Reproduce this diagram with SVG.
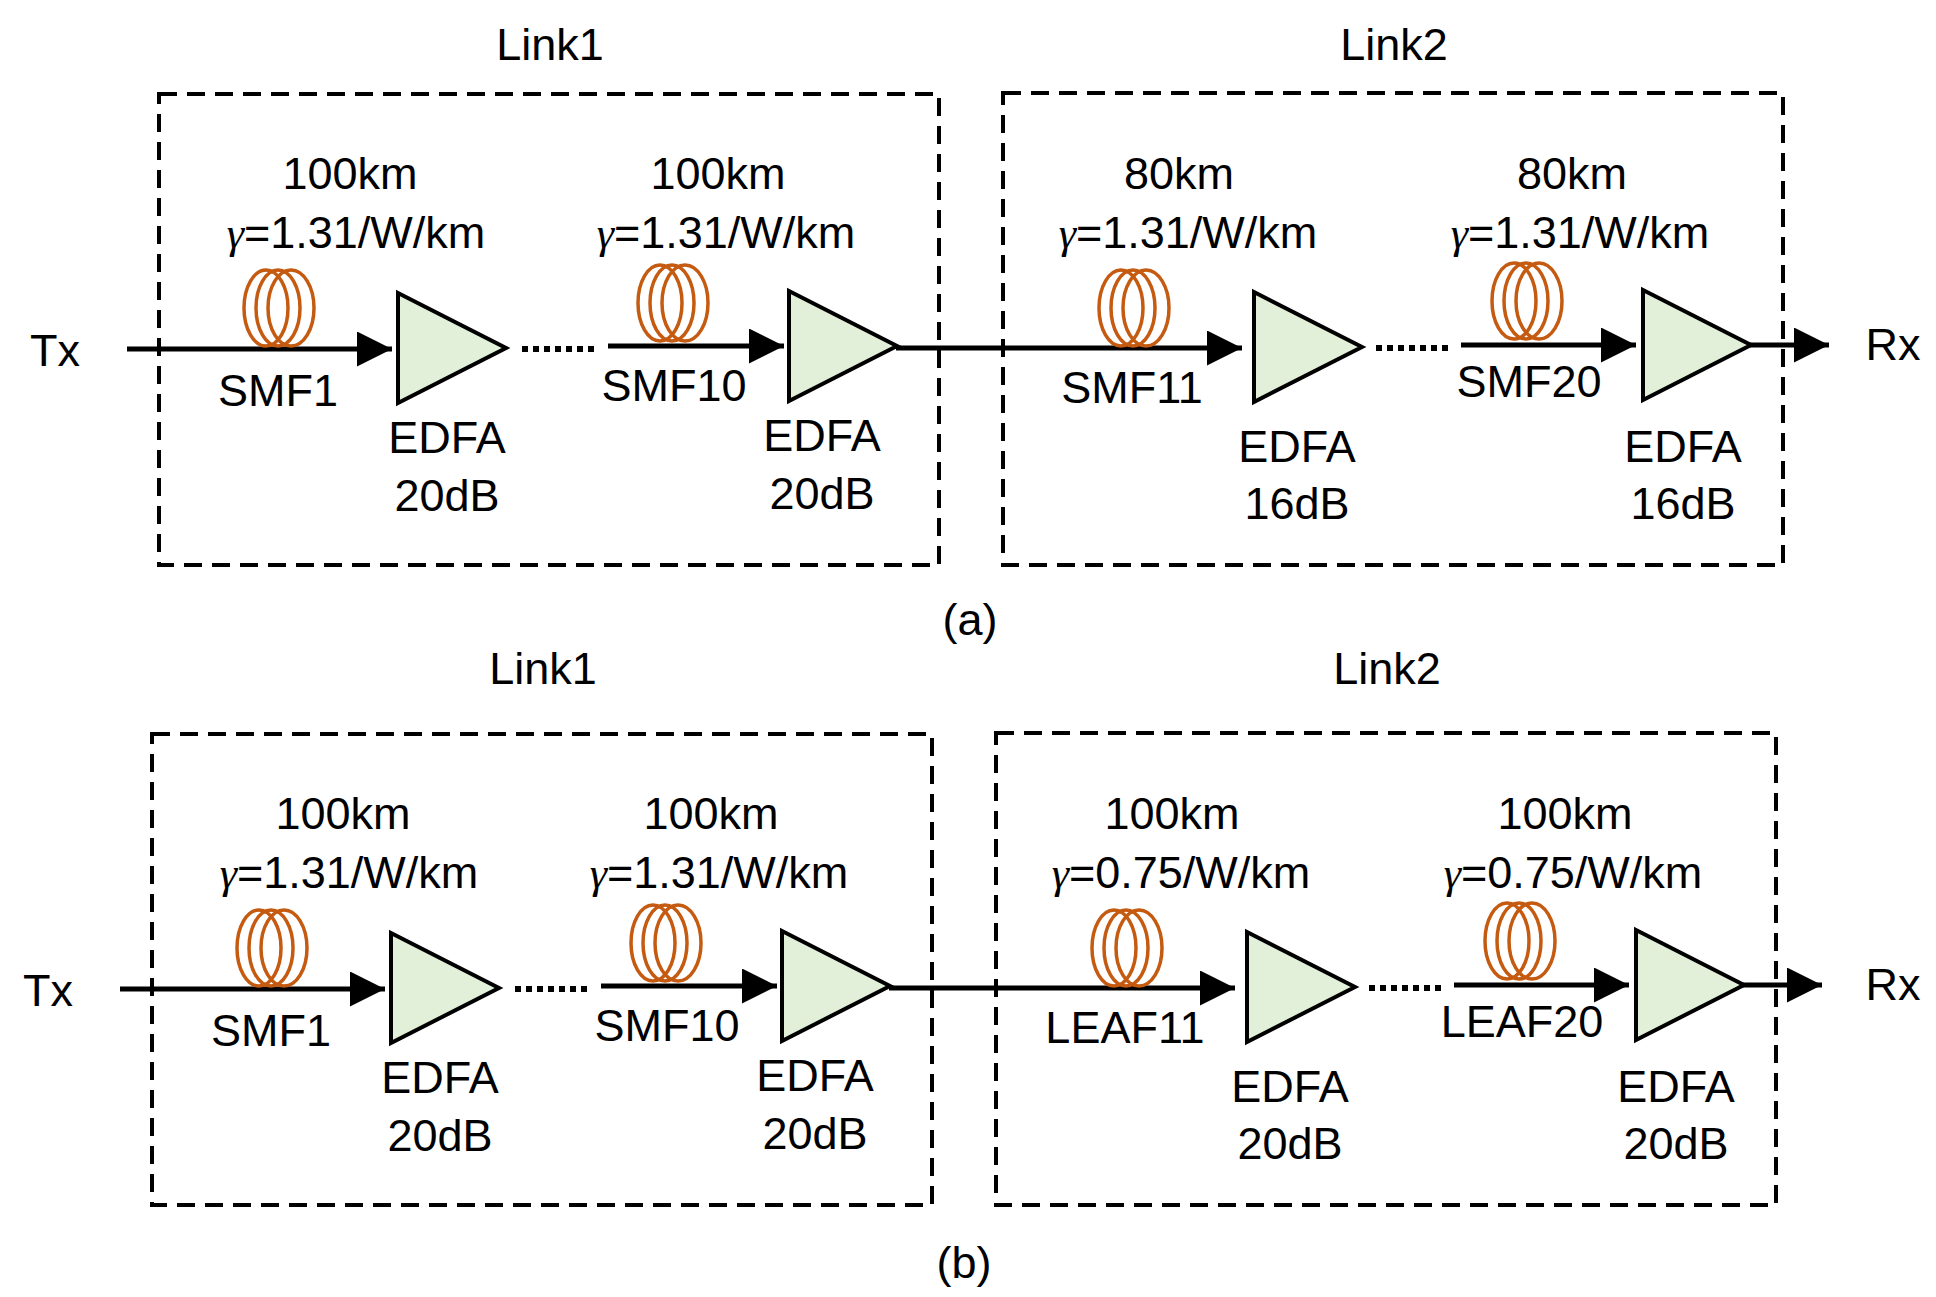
<svg xmlns="http://www.w3.org/2000/svg" xmlns:xlink="http://www.w3.org/1999/xlink" width="1936" height="1297" viewBox="0 0 1936 1297">
<style>
text{font-family:"Liberation Sans",Arial,sans-serif;font-size:45px;fill:#000;text-anchor:middle}
.g{font-family:"Liberation Serif",serif;font-style:italic;font-size:44px}
.box{fill:none;stroke:#000;stroke-width:4;stroke-dasharray:18 10}
.ln{stroke:#000;stroke-width:5;fill:none}
.dot{stroke:#000;stroke-width:6;stroke-dasharray:6 5;fill:none}
.amp{fill:#e2efd9;stroke:#000;stroke-width:4;stroke-linejoin:miter}
.coil{fill:none;stroke:#c55a11;stroke-width:3.5}
</style>
<defs>
<marker id="ah" markerWidth="8" markerHeight="8" refX="7" refY="3.5" orient="auto" markerUnits="strokeWidth"><path d="M0,0 L7,3.5 L0,7 z" fill="#000"/></marker>
<g id="coil"><ellipse class="coil" cx="-12" cy="0" rx="22" ry="38"/><ellipse class="coil" cx="0" cy="0" rx="22" ry="38"/><ellipse class="coil" cx="13" cy="0" rx="23" ry="38"/></g>
<polygon id="amp" class="amp" points="0,-55 108,0 0,55"/>
</defs>

<g id="panel-a">
<g id="link1a"><rect class="box" x="159" y="94" width="780" height="471"/><text x="550" y="60">Link1</text></g>
<g id="link2a"><rect class="box" x="1003" y="93" width="780" height="472"/><text x="1394" y="60">Link2</text></g>
<g id="connectors-a">
<line class="ln" x1="127" y1="349" x2="392" y2="349" marker-end="url(#ah)"/>
<line class="dot" x1="522" y1="349" x2="597" y2="349"/>
<line class="ln" x1="608" y1="346" x2="784" y2="346" marker-end="url(#ah)"/>
<line class="ln" x1="896" y1="348" x2="1242" y2="348" marker-end="url(#ah)"/>
<line class="dot" x1="1376" y1="348" x2="1451" y2="348"/>
<line class="ln" x1="1461" y1="345" x2="1636" y2="345" marker-end="url(#ah)"/>
<line class="ln" x1="1750" y1="345" x2="1829" y2="345" marker-end="url(#ah)"/>
</g>
<text x="55" y="366">Tx</text><text x="1893" y="360">Rx</text>
<g id="smf1a"><use xlink:href="#coil" x="278" y="308"/><text x="350" y="189">100km</text><text x="356" y="248"><tspan class="g">γ</tspan>=1.31/W/km</text><text x="278" y="406">SMF1</text></g>
<g id="edfa1a"><use xlink:href="#amp" x="398" y="348"/><text x="447" y="453">EDFA</text><text x="447" y="511">20dB</text></g>
<g id="smf10a"><use xlink:href="#coil" x="672" y="303"/><text x="718" y="189">100km</text><text x="726" y="248"><tspan class="g">γ</tspan>=1.31/W/km</text><text x="674" y="401">SMF10</text></g>
<g id="edfa2a"><use xlink:href="#amp" x="789" y="346"/><text x="822" y="451">EDFA</text><text x="822" y="509">20dB</text></g>
<g id="smf11a"><use xlink:href="#coil" x="1133" y="308"/><text x="1179" y="189">80km</text><text x="1188" y="248"><tspan class="g">γ</tspan>=1.31/W/km</text><text x="1132" y="403">SMF11</text></g>
<g id="edfa3a"><use xlink:href="#amp" x="1254" y="347"/><text x="1297" y="462">EDFA</text><text x="1297" y="519">16dB</text></g>
<g id="smf20a"><use xlink:href="#coil" x="1526" y="301"/><text x="1572" y="189">80km</text><text x="1580" y="248"><tspan class="g">γ</tspan>=1.31/W/km</text><text x="1529" y="397">SMF20</text></g>
<g id="edfa4a"><use xlink:href="#amp" x="1643" y="345"/><text x="1683" y="462">EDFA</text><text x="1683" y="519">16dB</text></g>
<text x="970" y="635">(a)</text>
</g>

<g id="panel-b">
<g transform="translate(-7,640)">
<g id="link1b"><rect class="box" x="159" y="94" width="780" height="471"/><text x="550" y="44">Link1</text></g>
<g id="link2b"><rect class="box" x="1003" y="93" width="780" height="472"/><text x="1394" y="44">Link2</text></g>
<g id="connectors-b">
<line class="ln" x1="127" y1="349" x2="392" y2="349" marker-end="url(#ah)"/>
<line class="dot" x1="522" y1="349" x2="597" y2="349"/>
<line class="ln" x1="608" y1="346" x2="784" y2="346" marker-end="url(#ah)"/>
<line class="ln" x1="896" y1="348" x2="1242" y2="348" marker-end="url(#ah)"/>
<line class="dot" x1="1376" y1="348" x2="1451" y2="348"/>
<line class="ln" x1="1461" y1="345" x2="1636" y2="345" marker-end="url(#ah)"/>
<line class="ln" x1="1750" y1="345" x2="1829" y2="345" marker-end="url(#ah)"/>
</g>
<text x="55" y="366">Tx</text>
<g id="smf1b"><use xlink:href="#coil" x="278" y="308"/><text x="350" y="189">100km</text><text x="356" y="248"><tspan class="g">γ</tspan>=1.31/W/km</text><text x="278" y="406">SMF1</text></g>
<g id="edfa1b"><use xlink:href="#amp" x="398" y="348"/><text x="447" y="453">EDFA</text><text x="447" y="511">20dB</text></g>
<g id="smf10b"><use xlink:href="#coil" x="672" y="303"/><text x="718" y="189">100km</text><text x="726" y="248"><tspan class="g">γ</tspan>=1.31/W/km</text><text x="674" y="401">SMF10</text></g>
<g id="edfa2b"><use xlink:href="#amp" x="789" y="346"/><text x="822" y="451">EDFA</text><text x="822" y="509">20dB</text></g>
<g id="leaf11b"><use xlink:href="#coil" x="1133" y="308"/><text x="1179" y="189">100km</text><text x="1188" y="248"><tspan class="g">γ</tspan>=0.75/W/km</text><text x="1132" y="403">LEAF11</text></g>
<g id="edfa3b"><use xlink:href="#amp" x="1254" y="347"/><text x="1297" y="462">EDFA</text><text x="1297" y="519">20dB</text></g>
<g id="leaf20b"><use xlink:href="#coil" x="1526" y="301"/><text x="1572" y="189">100km</text><text x="1580" y="248"><tspan class="g">γ</tspan>=0.75/W/km</text><text x="1529" y="397">LEAF20</text></g>
<g id="edfa4b"><use xlink:href="#amp" x="1643" y="345"/><text x="1683" y="462">EDFA</text><text x="1683" y="519">20dB</text></g>
</g>
<text x="1893" y="1000">Rx</text>
<text x="964" y="1278">(b)</text>
</g>
</svg>
